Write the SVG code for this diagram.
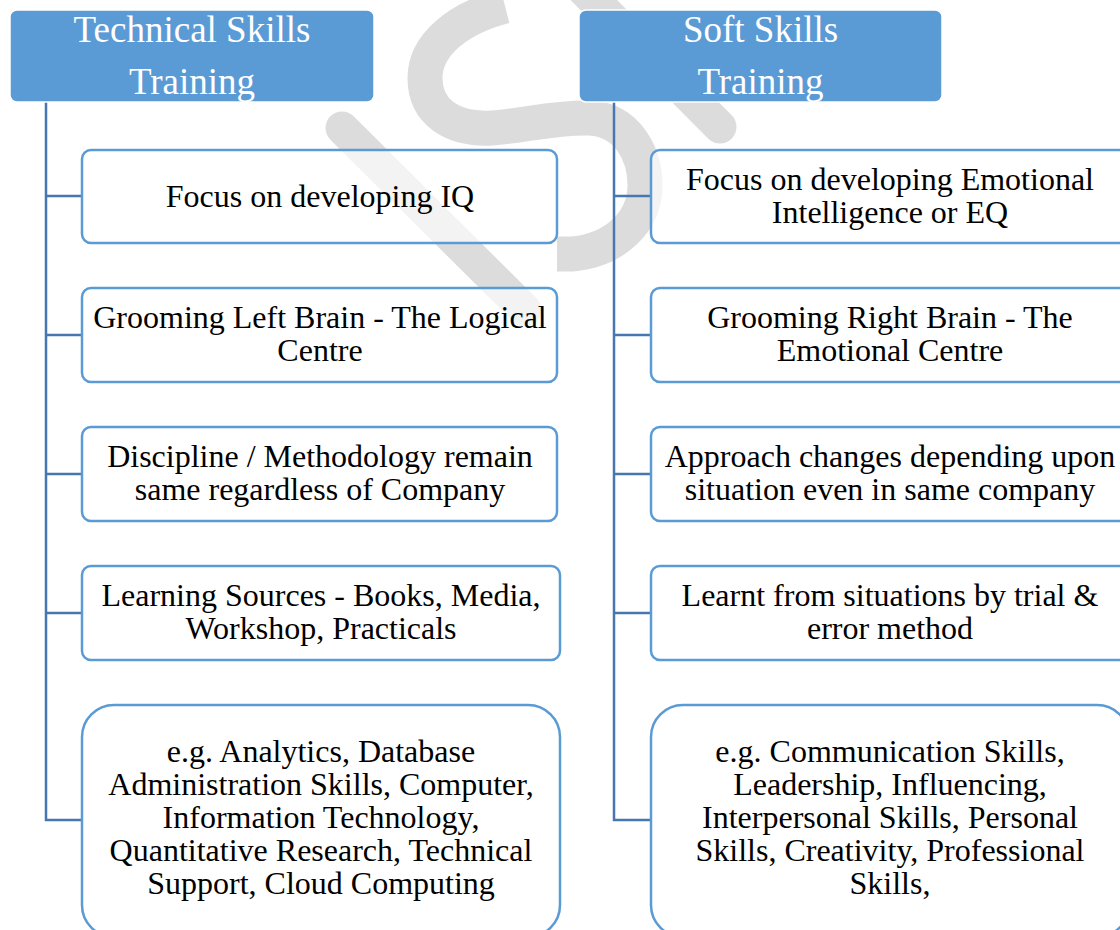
<svg xmlns="http://www.w3.org/2000/svg" width="1120" height="930" viewBox="0 0 1120 930">
  <style>
    .mark { fill: none; stroke: #dcdcdc; stroke-width: 33; stroke-linecap: round; }
    .mark-s { fill: none; stroke: #dcdcdc; stroke-width: 35; stroke-linecap: butt; }
    .head { fill: #5b9bd5; stroke: #ffffff; stroke-width: 1.5; }
    .head-text { font-family: "Liberation Serif", "Times New Roman", serif; font-size: 37px; fill: #ffffff; text-anchor: middle; }
    .box { fill: #ffffff; fill-opacity: 0.66; stroke: #5b9bd5; stroke-width: 2.5; }
    .label { font-family: "Liberation Serif", "Times New Roman", serif; font-size: 32px; fill: #000000; text-anchor: middle; }
    .link { fill: none; stroke: #4677b0; stroke-width: 2.5; }
  </style>

  <rect width="1120" height="930" fill="#ffffff"/>

  <!-- background logo strokes -->
  <g id="watermark">
    <path class="mark-s" d="M 505 6 C 458 18, 425 45, 425 78 C 425 112, 452 130, 492 128 C 525 126, 552 117, 590 118 C 628 120, 645 155, 645 185 C 645 222, 615 250, 572 254 L 557 254"/>
    <path class="mark" d="M 342 128 L 525 310"/>
    <path class="mark" d="M 560 -34 L 720 127"/>
  </g>

  <!-- tree connectors -->
  <g id="connectors">
    <path class="link" d="M 46 102 V 820 H 82"/>
    <path class="link" d="M 46 196 H 82"/>
    <path class="link" d="M 46 335 H 82"/>
    <path class="link" d="M 46 474 H 82"/>
    <path class="link" d="M 46 613 H 82"/>
    <path class="link" d="M 614 102 V 820 H 651"/>
    <path class="link" d="M 614 196 H 651"/>
    <path class="link" d="M 614 335 H 651"/>
    <path class="link" d="M 614 474 H 651"/>
    <path class="link" d="M 614 613 H 651"/>
  </g>

  <!-- Technical skills column -->
  <g id="technical-header">
    <rect class="head" x="10" y="10" width="364" height="92" rx="7"/>
    <text class="head-text" x="192" y="42">Technical Skills</text>
    <text class="head-text" x="192" y="94">Training</text>
  </g>
  <g id="tech-iq">
    <rect class="box" x="82" y="150" width="475" height="93" rx="9"/>
    <text class="label" x="320" y="207">Focus on developing IQ</text>
  </g>
  <g id="tech-brain">
    <rect class="box" x="82" y="288" width="475" height="94" rx="9"/>
    <text class="label" x="320" y="328">Grooming Left Brain - The Logical</text>
    <text class="label" x="320" y="361">Centre</text>
  </g>
  <g id="tech-method">
    <rect class="box" x="82" y="427" width="475" height="94" rx="9"/>
    <text class="label" x="320" y="467">Discipline / Methodology remain</text>
    <text class="label" x="320" y="500">same regardless of Company</text>
  </g>
  <g id="tech-sources">
    <rect class="box" x="82" y="566" width="478" height="94" rx="9"/>
    <text class="label" x="321" y="606">Learning Sources - Books, Media,</text>
    <text class="label" x="321" y="639">Workshop, Practicals</text>
  </g>
  <g id="tech-examples">
    <rect class="box" x="82" y="705" width="478" height="232" rx="32"/>
    <text class="label" x="321" y="762">e.g. Analytics, Database</text>
    <text class="label" x="321" y="795">Administration Skills, Computer,</text>
    <text class="label" x="321" y="828">Information Technology,</text>
    <text class="label" x="321" y="861">Quantitative Research, Technical</text>
    <text class="label" x="321" y="894">Support, Cloud Computing</text>
  </g>

  <!-- Soft skills column -->
  <g id="soft-header">
    <rect class="head" x="579" y="10" width="363" height="92" rx="7"/>
    <text class="head-text" x="760.5" y="42">Soft Skills</text>
    <text class="head-text" x="760.5" y="94">Training</text>
  </g>
  <g id="soft-eq">
    <rect class="box" x="651" y="150" width="478" height="93" rx="9"/>
    <text class="label" x="890" y="190">Focus on developing Emotional</text>
    <text class="label" x="890" y="223">Intelligence or EQ</text>
  </g>
  <g id="soft-brain">
    <rect class="box" x="651" y="288" width="478" height="94" rx="9"/>
    <text class="label" x="890" y="328">Grooming Right Brain - The</text>
    <text class="label" x="890" y="361">Emotional Centre</text>
  </g>
  <g id="soft-approach">
    <rect class="box" x="651" y="427" width="478" height="94" rx="9"/>
    <text class="label" x="890" y="467">Approach changes depending upon</text>
    <text class="label" x="890" y="500">situation even in same company</text>
  </g>
  <g id="soft-learnt">
    <rect class="box" x="651" y="566" width="478" height="94" rx="9"/>
    <text class="label" x="890" y="606">Learnt from situations by trial &amp;</text>
    <text class="label" x="890" y="639">error method</text>
  </g>
  <g id="soft-examples">
    <rect class="box" x="651" y="705" width="478" height="232" rx="32"/>
    <text class="label" x="890" y="762">e.g. Communication Skills,</text>
    <text class="label" x="890" y="795">Leadership, Influencing,</text>
    <text class="label" x="890" y="828">Interpersonal Skills, Personal</text>
    <text class="label" x="890" y="861">Skills, Creativity, Professional</text>
    <text class="label" x="890" y="894">Skills,</text>
  </g>
</svg>
